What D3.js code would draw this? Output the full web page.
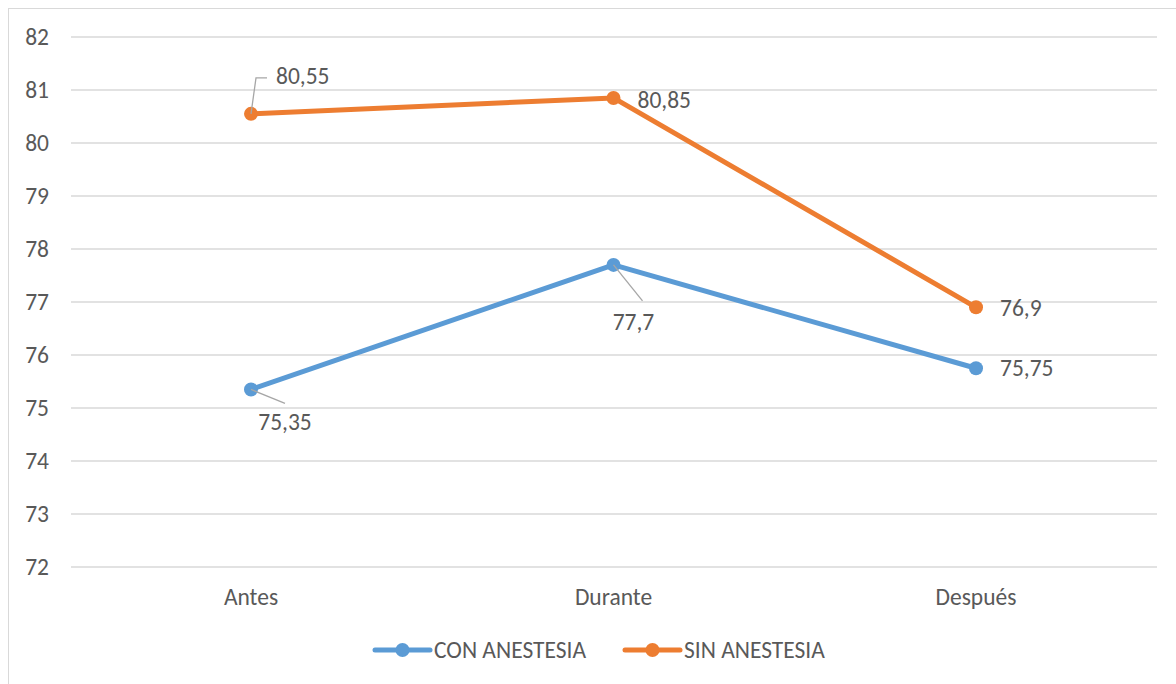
<!DOCTYPE html>
<html>
<head>
<meta charset="utf-8">
<title>Con / sin anestesia</title>
<style>
  body { margin: 0; background: #fff; }
  svg { display: block; font-family: Carlito, Lato, Calibri, "Liberation Sans", sans-serif; }
  .grid line { stroke: #d9d9d9; stroke-width: 1.3px; }
  .lbl { fill: #595959; font-size: 23.5px; }
</style>
</head>
<body>
<svg width="1176" height="684"></svg>
<script src="https://d3js.org/d3.v7.min.js"></script>
<script>
// chart data
var categories = ["Antes", "Durante", "Después"];
var seriesNames = ["CON ANESTESIA", "SIN ANESTESIA"];
var conAnestesia = [75.35, 77.7, 75.75];
var sinAnestesia = [80.55, 80.85, 76.9];
var yTicks = [72, 73, 74, 75, 76, 77, 78, 79, 80, 81, 82];
var colors = ["#5b9bd5", "#ed7d31"];

var svg = d3.select("svg");

// outer chart border (only top and left visible)
svg.append("rect")
    .attr("x", 8.5).attr("y", 8.5)
    .attr("width", 1200).attr("height", 700)
    .attr("fill", "none").attr("stroke", "#d9d9d9").attr("stroke-width", 1);

var x = d3.scalePoint().domain(categories).range([251, 976]).padding(0);
var y = d3.scaleLinear().domain([72, 82]).range([567, 37]);

// gridlines
svg.append("g").attr("class", "grid")
  .selectAll("line").data(yTicks).enter().append("line")
    .attr("x1", 71).attr("x2", 1157)
    .attr("y1", function(d) { return y(d); })
    .attr("y2", function(d) { return y(d); });

// y labels
svg.append("g").selectAll("text").data(yTicks).enter().append("text")
    .attr("class", "lbl")
    .attr("x", 49).attr("y", function(d) { return y(d); })
    .attr("dy", "0.35em").attr("text-anchor", "end")
    .text(function(d) { return d; });

// x labels
svg.append("g").selectAll("text").data(categories).enter().append("text")
    .attr("class", "lbl")
    .attr("x", function(d) { return x(d); }).attr("y", 597)
    .attr("dy", "0.35em").attr("text-anchor", "middle")
    .text(function(d) { return d; });

var series = [conAnestesia, sinAnestesia].map(function(vals, i) {
  return { name: seriesNames[i], color: colors[i],
           values: vals.map(function(v, j) { return { cat: categories[j], v: v }; }) };
});

var line = d3.line()
    .x(function(d) { return x(d.cat); })
    .y(function(d) { return y(d.v); });

var sg = svg.selectAll(".series").data(series).enter().append("g").attr("class", "series");
sg.append("path")
    .attr("d", function(d) { return line(d.values); })
    .attr("fill", "none")
    .attr("stroke", function(d) { return d.color; })
    .attr("stroke-width", 5)
    .attr("stroke-linejoin", "round")
    .attr("stroke-linecap", "round");
sg.selectAll("circle").data(function(d) { return d.values.map(function(p) { return { p: p, color: d.color }; }); })
  .enter().append("circle")
    .attr("cx", function(d) { return x(d.p.cat); })
    .attr("cy", function(d) { return y(d.p.v); })
    .attr("r", 7)
    .attr("fill", function(d) { return d.color; });

// data labels: offsets relative to the point, leader line path when needed
var fmt = function(v) { return String(v).replace(".", ","); };
var labelPlacement = [
  [ { dx: 34, dy: 32, anchor: "middle", leader: [[0, 0], [34, 14]] },
    { dx: 20, dy: 57, anchor: "middle", leader: [[0, 0], [29, 36]] },
    { dx: 24, dy: 0, anchor: "start" } ],
  [ { dx: 25, dy: -38, anchor: "start", leader: [[0, 0], [5, -36], [16, -36]] },
    { dx: 24, dy: 2, anchor: "start" },
    { dx: 24, dy: 0, anchor: "start" } ]
];

series.forEach(function(s, i) {
  s.values.forEach(function(p, j) {
    var pl = labelPlacement[i][j];
    var px = x(p.cat), py = y(p.v);
    if (pl.leader) {
      svg.append("path")
        .attr("d", d3.line()(pl.leader.map(function(q) { return [px + q[0], py + q[1]]; })))
        .attr("fill", "none").attr("stroke", "#a6a6a6").attr("stroke-width", 1.3);
    }
    svg.append("text").attr("class", "lbl")
      .attr("x", px + pl.dx).attr("y", py + pl.dy)
      .attr("dy", "0.35em").attr("text-anchor", pl.anchor)
      .text(fmt(p.v));
  });
});

// legend
var legendX = [375, 625];
var lg = svg.selectAll(".legend").data(series).enter().append("g")
    .attr("transform", function(d, i) { return "translate(" + legendX[i] + ",650)"; });
lg.append("line").attr("x1", 0).attr("x2", 55)
    .attr("stroke", function(d) { return d.color; }).attr("stroke-width", 5)
    .attr("stroke-linecap", "round");
lg.append("circle").attr("cx", 27.5).attr("r", 7)
    .attr("fill", function(d) { return d.color; });
lg.append("text").attr("class", "lbl")
    .attr("x", 59).attr("dy", "0.35em")
    .text(function(d) { return d.name; });
</script>
</body>
</html>
